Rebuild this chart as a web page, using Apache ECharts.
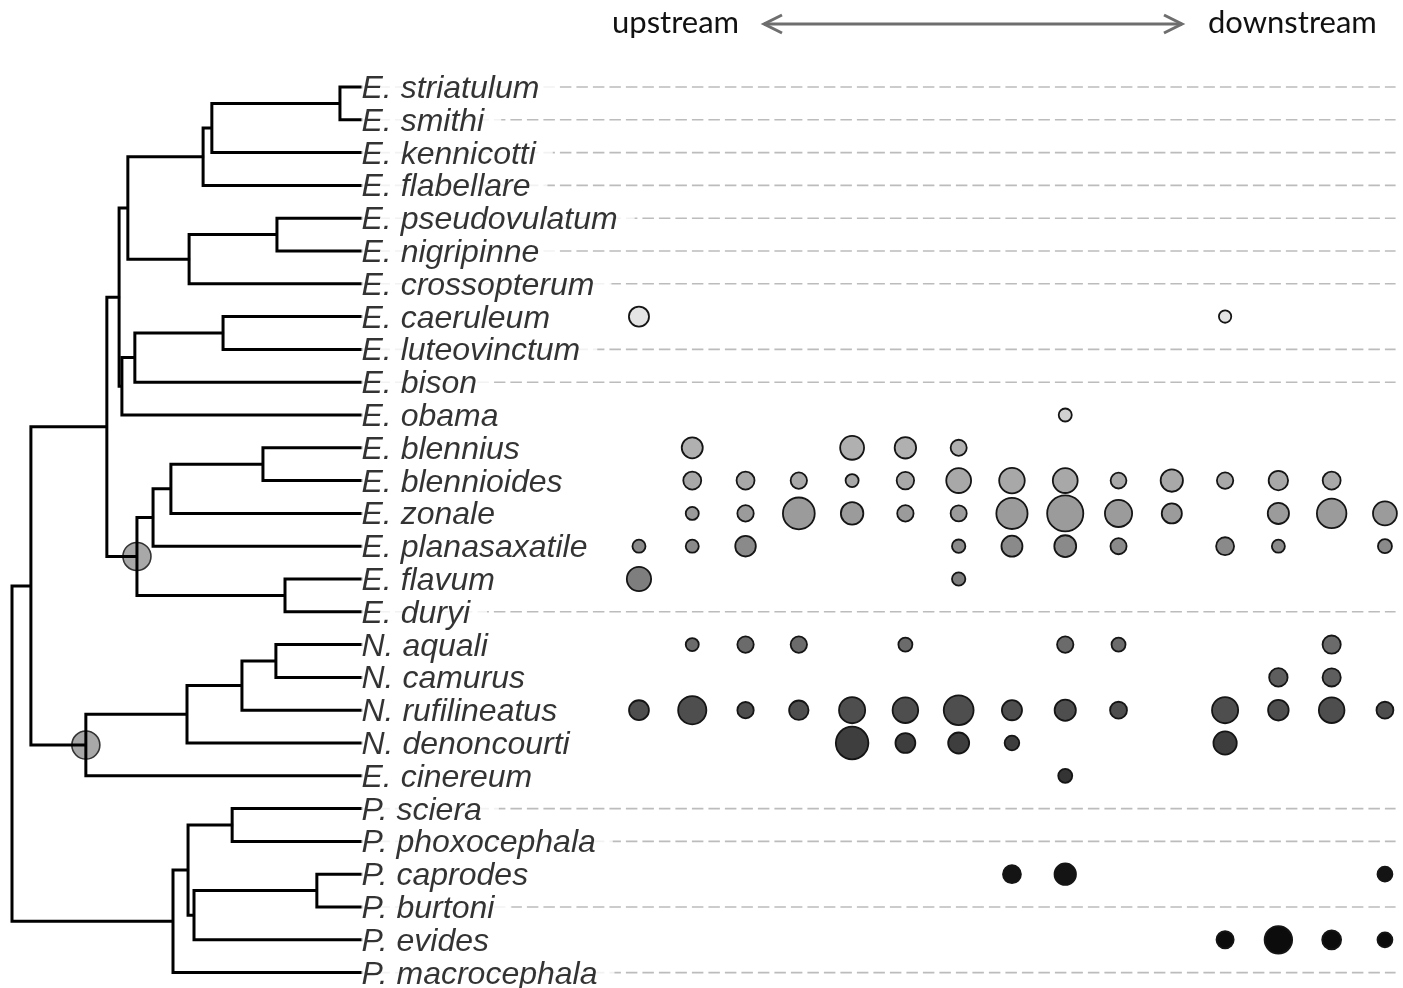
<!DOCTYPE html>
<html>
<head>
<meta charset="utf-8">
<script src="https://cdn.jsdelivr.net/npm/echarts@6/dist/echarts.min.js"></script>
<style>
html,body{margin:0;padding:0;background:#fff;}
#c{width:1403px;height:988px;}
</style>
</head>
<body>
<div id="c"></div>
<script>
// ---------- DATA ----------
const species = ['E. striatulum','E. smithi','E. kennicotti','E. flabellare','E. pseudovulatum','E. nigripinne','E. crossopterum','E. caeruleum','E. luteovinctum','E. bison','E. obama','E. blennius','E. blennioides','E. zonale','E. planasaxatile','E. flavum','E. duryi','N. aquali','N. camurus','N. rufilineatus','N. denoncourti','E. cinereum','P. sciera','P. phoxocephala','P. caprodes','P. burtoni','P. evides','P. macrocephala'];

// internal tree nodes: id, relative depth (root 0 .. tips 1), children
const nodeIds    = ['root','n1','n2','n3','n4','n5','n6','n7','n8','n9','n10','n11','n12','n13','n14','n15','n16','n17','n18','n19','n20','n21','n22','n23','n24','n25','n26'];
const nodeDepths = [0, 0.054, 0.271, 0.306, 0.331, 0.546, 0.571, 0.937, 0.506, 0.757, 0.314, 0.351, 0.603, 0.357, 0.403, 0.454, 0.717, 0.780, 0.211, 0.500, 0.657, 0.754, 0.460, 0.503, 0.629, 0.520, 0.871];
const nodeChildren = [
  ['n1','n22'],
  ['n2','n18'],
  ['n3','n13'],
  ['n4','n10'],
  ['n5','n8'],
  ['n6','E. flabellare'],
  ['n7','E. kennicotti'],
  ['E. striatulum','E. smithi'],
  ['n9','E. crossopterum'],
  ['E. pseudovulatum','E. nigripinne'],
  ['n11','E. obama'],
  ['n12','E. bison'],
  ['E. caeruleum','E. luteovinctum'],
  ['n14','n17'],
  ['n15','E. planasaxatile'],
  ['n16','E. zonale'],
  ['E. blennius','E. blennioides'],
  ['E. flavum','E. duryi'],
  ['n19','E. cinereum'],
  ['n20','N. denoncourti'],
  ['n21','N. rufilineatus'],
  ['N. aquali','N. camurus'],
  ['n23','P. macrocephala'],
  ['n24','n25'],
  ['P. sciera','P. phoxocephala'],
  ['n26','P. evides'],
  ['P. caprodes','P. burtoni']
];
const markedNodes = ['n13','n18'];

// sampling sites, upstream (1) to downstream (15)
const sites = [1,2,3,4,5,6,7,8,9,10,11,12,13,14,15];

// abundance index per site (0 = absent)
const abCaeruleum     = [48,0,0,0,0,0,0,0,0,0,0,20,0,0,0];
const abObama         = [0,0,0,0,0,0,0,0,22,0,0,0,0,0,0];
const abBlennius      = [0,52,0,0,66,54,32,0,0,0,0,0,0,0,0];
const abBlennioides   = [0,39,39,33,22,37,71,75,71,31,58,33,45,39,0];
const abZonale        = [0,22,33,113,59,33,32,109,144,84,48,0,53,98,66];
const abPlanasaxatile = [22,22,50,0,0,0,23,52,56,32,0,39,22,0,25];
const abFlavum        = [68,0,0,0,0,0,23,0,0,0,0,0,0,0,0];
const abAquali        = [0,22,33,33,0,25,0,0,33,25,0,0,0,40,0];
const abCamurus       = [0,0,0,0,0,0,0,0,0,0,0,0,41,40,0];
const abRufilineatus  = [47,90,33,45,78,75,100,48,53,35,0,78,50,75,35];
const abDenoncourti   = [0,0,0,0,118,47,52,27,0,0,0,63,0,0,0];
const abCinereum      = [0,0,0,0,0,0,0,0,25,0,0,0,0,0,0];
const abCaprodes      = [0,0,0,0,0,0,0,39,54,0,0,0,0,0,28];
const abEvides        = [0,0,0,0,0,0,0,0,0,0,0,36,86,43,28];

const occupied = [
  ['E. caeruleum', abCaeruleum, '#e4e4e4'],
  ['E. obama', abObama, '#d2d2d2'],
  ['E. blennius', abBlennius, '#b0b0b0'],
  ['E. blennioides', abBlennioides, '#a8a8a8'],
  ['E. zonale', abZonale, '#9b9b9b'],
  ['E. planasaxatile', abPlanasaxatile, '#8a8a8a'],
  ['E. flavum', abFlavum, '#7e7e7e'],
  ['N. aquali', abAquali, '#6b6b6b'],
  ['N. camurus', abCamurus, '#5e5e5e'],
  ['N. rufilineatus', abRufilineatus, '#4e4e4e'],
  ['N. denoncourti', abDenoncourti, '#3e3e3e'],
  ['E. cinereum', abCinereum, '#343434'],
  ['P. caprodes', abCaprodes, '#141414'],
  ['P. evides', abEvides, '#0c0c0c']
];

// ---------- LAYOUT ----------
const tipRow = {}; species.forEach((s,i)=>{ tipRow[s]=i; });
const nodeIdx = {}; nodeIds.forEach((id,i)=>{ nodeIdx[id]=i; });
function pos(name){
  if (name in tipRow) return [1, tipRow[name]];
  const i = nodeIdx[name];
  const ch = nodeChildren[i].map(pos);
  const y = ch.reduce((a,c)=>a+c[1],0)/ch.length;
  return [nodeDepths[i], y];
}
const occupiedNames = occupied.map(o=>o[0]);
const emptyRows = species.map((s,i)=>[i,s]).filter(d=>occupiedNames.indexOf(d[1])<0).map(d=>[0,d[0]]);

const chart = echarts.init(document.getElementById('c'), null, {renderer:'canvas'});
const LABEL_FONT = '"Liberation Sans", Arial, sans-serif';
const TOP_FONT = 'Lato, "Open Sans", sans-serif';

const series = [];
// dashed guide lines for species not collected
series.push({
  type:'custom', xAxisIndex:1, yAxisIndex:1, silent:true, z:1,
  data: emptyRows,
  renderItem:(params, api)=>{
    const row = api.value(1);
    const a = api.coord([-4.2,row]), b = api.coord([15.2,row]);
    return {type:'line', shape:{x1:a[0],y1:a[1],x2:b[0],y2:b[1]},
      style:{stroke:'#bcbcbc', lineWidth:1.6, lineDash:[11.5,5]}};
  }
});
// marked node circles
series.push({
  type:'scatter', xAxisIndex:0, yAxisIndex:0, silent:true, z:2,
  data: markedNodes.map(pos),
  symbol:'circle', symbolSize:28,
  itemStyle:{color:'#a8a8a8', borderColor:'#333', borderWidth:1.6, opacity:1}
});
// tree branches
series.push({
  type:'custom', xAxisIndex:0, yAxisIndex:0, silent:true, z:3,
  data: nodeIds.map(pos),
  renderItem:(params, api)=>{
    const i = params.dataIndex;
    const p = pos(nodeIds[i]);
    const ch = nodeChildren[i].map(pos).sort((a,b)=>a[1]-b[1]);
    const pn = api.coord(p);
    const c0 = api.coord(ch[0]), c1 = api.coord(ch[ch.length-1]);
    return {type:'polyline', shape:{points:[[c0[0]+1,c0[1]],[pn[0],c0[1]],[pn[0],c1[1]],[c1[0]+1,c1[1]]]},
      style:{stroke:'#000', lineWidth:3, fill:null, lineJoin:'miter'}};
  }
});
// tip labels
series.push({
  type:'scatter', xAxisIndex:0, yAxisIndex:0, silent:true, z:6, clip:false,
  data: species.map((s,i)=>[1,i,s]),
  symbolSize:1, itemStyle:{color:'rgba(0,0,0,0)'},
  label:{show:true, position:'right', distance:0, offset:[-1,2], formatter:p=>p.value[2],
    fontFamily:LABEL_FONT, fontStyle:'italic', fontSize:32, color:'#000',
    backgroundColor:'#fff', padding:[0,17,0,0], lineHeight:30}
});
// abundance bubbles
occupied.forEach(([name, vals, col])=>{
  const row = tipRow[name];
  const data = [];
  sites.forEach((s,k)=>{ if (vals[k]>0) data.push([s,row,vals[k]]); });
  series.push({
    type:'scatter', name, xAxisIndex:1, yAxisIndex:1, silent:true, z:4,
    data, symbol:'circle',
    symbolSize: v => Math.sqrt(v[2]*10) - 1.8,
    itemStyle:{color:col, borderColor:'#151515', borderWidth:1.8, opacity:1}
  });
});

const option = {
  backgroundColor:'#fff',
  animation:false,
  grid:[
    {left:12, width:350, top:87, height:885.6},
    {left:361.9, width:1033.7, top:87, height:885.6}
  ],
  xAxis:[
    {gridIndex:0, type:'value', min:0, max:1, show:false},
    {gridIndex:1, type:'value', min:-4.2, max:15.2, show:false}
  ],
  yAxis:[
    {gridIndex:0, type:'value', min:0, max:27, inverse:true, show:false},
    {gridIndex:1, type:'value', min:0, max:27, inverse:true, show:false}
  ],
  graphic:[
    {type:'text', left:612, top:7, style:{text:'upstream', font:'31px '+TOP_FONT, fill:'#111'}},
    {type:'text', left:1208, top:7, style:{text:'downstream', font:'31px '+TOP_FONT, fill:'#111'}},
    {type:'line', shape:{x1:764,y1:24,x2:1182,y2:24}, style:{stroke:'#6e6e6e', lineWidth:3}},
    {type:'polyline', shape:{points:[[782,15],[764,24],[782,33]]}, style:{stroke:'#6e6e6e', lineWidth:3, fill:null}},
    {type:'polyline', shape:{points:[[1164,15],[1182,24],[1164,33]]}, style:{stroke:'#6e6e6e', lineWidth:3, fill:null}}
  ],
  series
};
chart.setOption(option);
</script>
</body>
</html>
